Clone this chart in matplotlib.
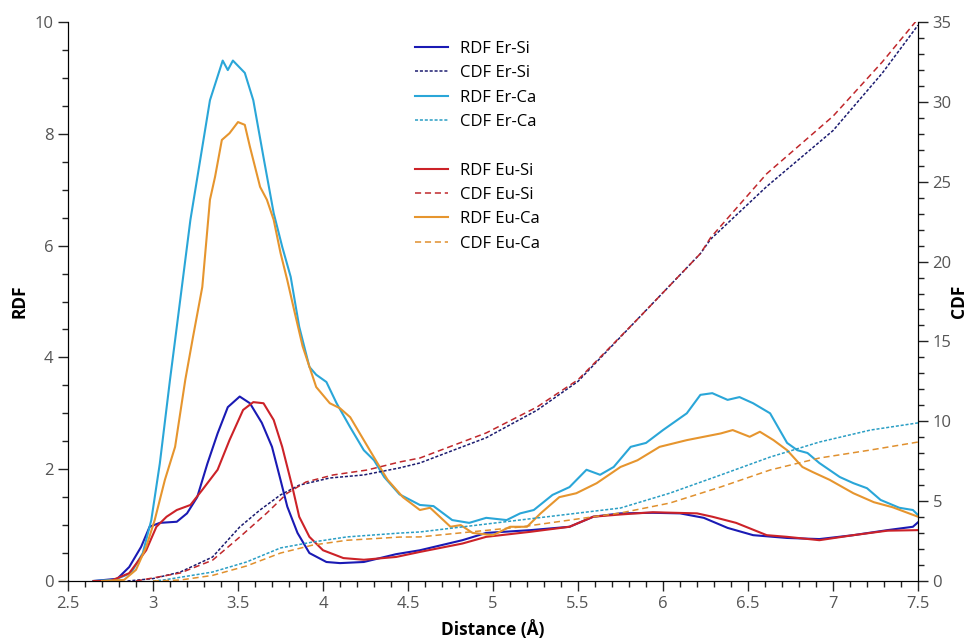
import matplotlib
matplotlib.use('Agg')
import matplotlib.pyplot as plt
from matplotlib.ticker import MultipleLocator

plt.rcParams['font.family'] = ['Open Sans', 'DejaVu Sans']

# RDF curves (left axis)
er_si_rdf_x = [2.65, 2.79, 2.86, 2.93, 2.98, 3.04, 3.14, 3.2, 3.26, 3.32, 3.38, 3.44, 3.51, 3.57, 3.64,
               3.7, 3.75, 3.79, 3.85, 3.92, 4.02, 4.1, 4.24, 4.43, 4.57, 4.82, 4.96, 5.22, 5.45, 5.59,
               5.75, 5.94, 6.1, 6.24, 6.38, 6.53, 6.73, 6.92, 7.12, 7.32, 7.47, 7.5]
er_si_rdf_y = [0, 0.04, 0.25, 0.61, 0.97, 1.04, 1.06, 1.21, 1.5, 2.1, 2.64, 3.11, 3.3, 3.18, 2.83,
               2.4, 1.81, 1.33, 0.86, 0.5, 0.34, 0.32, 0.34, 0.48, 0.55, 0.73, 0.86, 0.91, 0.97, 1.15,
               1.21, 1.22, 1.21, 1.13, 0.95, 0.82, 0.77, 0.75, 0.82, 0.91, 0.97, 1.05]

eu_si_rdf_x = [2.65, 2.75, 2.86, 2.96, 3.02, 3.08, 3.14, 3.22, 3.29, 3.38, 3.45, 3.53, 3.59, 3.65, 3.71,
               3.76, 3.82, 3.86, 3.92, 4.0, 4.12, 4.24, 4.43, 4.57, 4.82, 4.96, 5.22, 5.45, 5.59, 5.75,
               5.94, 6.2, 6.29, 6.43, 6.61, 6.73, 6.92, 7.12, 7.32, 7.5]
eu_si_rdf_y = [0, 0, 0.14, 0.55, 0.97, 1.15, 1.27, 1.36, 1.63, 1.99, 2.52, 3.06, 3.2, 3.18, 2.88,
               2.4, 1.68, 1.15, 0.79, 0.55, 0.41, 0.38, 0.43, 0.52, 0.67, 0.79, 0.88, 0.97, 1.15, 1.19,
               1.23, 1.21, 1.15, 1.04, 0.82, 0.79, 0.73, 0.82, 0.9, 0.91]

er_ca_rdf_x = [2.65, 2.77, 2.87, 2.94, 2.99, 3.04, 3.1, 3.13, 3.22, 3.335, 3.41, 3.44, 3.47, 3.54, 3.59,
               3.65, 3.71, 3.76, 3.81, 3.86, 3.92, 3.96, 4.02, 4.08, 4.16, 4.24, 4.3, 4.36, 4.45, 4.57,
               4.65, 4.76, 4.86, 4.96, 5.08, 5.16, 5.24, 5.35, 5.45, 5.55, 5.63, 5.71, 5.81, 5.9, 6.0,
               6.14, 6.22, 6.29, 6.38, 6.45, 6.53, 6.63, 6.73, 6.79, 6.85, 6.92, 7.04, 7.12, 7.2, 7.28,
               7.39, 7.47, 7.5]
er_ca_rdf_y = [0, 0.02, 0.14, 0.5, 1.09, 2.1, 3.6, 4.31, 6.46, 8.6, 9.31, 9.14, 9.31, 9.09, 8.6,
               7.58, 6.58, 5.98, 5.44, 4.55, 3.83, 3.69, 3.56, 3.18, 2.75, 2.34, 2.16, 1.86, 1.55, 1.36,
               1.34, 1.09, 1.04, 1.13, 1.09, 1.21, 1.27, 1.54, 1.68, 1.99, 1.9, 2.04, 2.4, 2.47, 2.7,
               3.0, 3.33, 3.36, 3.24, 3.29, 3.18, 3.0, 2.47, 2.34, 2.29, 2.11, 1.86, 1.75, 1.66, 1.45,
               1.31, 1.27, 1.18]

eu_ca_rdf_x = [2.7, 2.83, 2.9, 2.96, 3.01, 3.07, 3.13, 3.19, 3.235, 3.29, 3.335, 3.365, 3.405, 3.45, 3.5,
               3.54, 3.57, 3.6, 3.63, 3.67, 3.71, 3.75, 3.79, 3.83, 3.88, 3.96, 4.04, 4.1, 4.16, 4.24,
               4.32, 4.38, 4.47, 4.57, 4.63, 4.75, 4.81, 4.88, 5.0, 5.1, 5.2, 5.28, 5.39, 5.49, 5.61,
               5.75, 5.85, 5.98, 6.14, 6.24, 6.34, 6.41, 6.51, 6.57, 6.65, 6.73, 6.82, 6.88, 6.98, 7.12,
               7.24, 7.35, 7.5]
eu_ca_rdf_y = [0, 0.02, 0.2, 0.61, 1.09, 1.81, 2.4, 3.6, 4.36, 5.26, 6.82, 7.23, 7.89, 8.01, 8.21,
               8.16, 7.77, 7.41, 7.05, 6.82, 6.46, 5.87, 5.38, 4.85, 4.2, 3.47, 3.18, 3.09, 2.93, 2.52,
               2.11, 1.81, 1.5, 1.27, 1.31, 0.97, 1.0, 0.86, 0.82, 0.97, 0.97, 1.21, 1.5, 1.57, 1.75,
               2.04, 2.16, 2.4, 2.52, 2.58, 2.64, 2.7, 2.58, 2.67, 2.52, 2.34, 2.04, 1.95, 1.81, 1.57,
               1.41, 1.32, 1.15]

# CDF curves (right axis)
er_si_cdf_x = [2.85, 3.0, 3.16, 3.35, 3.51, 3.63, 3.75, 3.86, 4.04, 4.24, 4.45, 4.57, 4.96, 5.26, 5.5,
               5.86, 6.22, 6.28, 6.61, 7.0, 7.29, 7.5]
er_si_cdf_y = [0, 0.15, 0.56, 1.5, 3.38, 4.45, 5.39, 6.0, 6.45, 6.64, 7.08, 7.39, 8.97, 10.7, 12.5,
               16.5, 20.5, 21.4, 24.7, 28.2, 31.8, 34.8]

eu_si_cdf_x = [2.9, 3.16, 3.35, 3.51, 3.67, 3.79, 3.9, 4.06, 4.26, 4.45, 4.57, 4.96, 5.26, 5.5, 5.86,
               6.22, 6.28, 6.61, 7.0, 7.29, 7.5]
eu_si_cdf_y = [0, 0.5, 1.3, 2.75, 4.26, 5.5, 6.2, 6.64, 6.95, 7.45, 7.7, 9.27, 10.9, 12.6, 16.5,
               20.5, 21.5, 25.5, 29.1, 32.5, 35.2]

er_ca_cdf_x = [3.0, 3.06, 3.35, 3.55, 3.75, 3.94, 4.14, 4.45, 4.57, 5.16, 5.75, 6.04, 6.34, 6.63, 6.92,
               7.22, 7.5]
er_ca_cdf_y = [0, 0.06, 0.56, 1.19, 2.07, 2.44, 2.76, 3.0, 3.07, 3.82, 4.57, 5.5, 6.64, 7.76, 8.7,
               9.45, 9.9]

eu_ca_cdf_x = [3.0, 3.16, 3.35, 3.55, 3.75, 3.94, 4.14, 4.45, 4.57, 5.16, 5.75, 6.04, 6.34, 6.63, 6.92,
               7.22, 7.5]
eu_ca_cdf_y = [0, 0.06, 0.35, 0.94, 1.75, 2.25, 2.55, 2.75, 2.76, 3.38, 4.26, 4.88, 5.89, 6.95, 7.7,
               8.2, 8.7]

c_er_si = '#1a1ab4'
c_er_si_cdf = '#1c1c70'
c_er_ca = '#2aa6d8'
c_er_ca_cdf = '#2a9ec4'
c_eu_si = '#cc2228'
c_eu_si_cdf = '#c0282c'
c_eu_ca = '#e6952e'
c_eu_ca_cdf = '#e0902e'

fig = plt.figure(figsize=(9.74, 6.38), dpi=100)
ax = fig.add_axes([68 / 974, 1 - 581 / 638, 850 / 974, 559 / 638])
ax2 = ax.twinx()

dot = (0, (2, 1.2))
dash = (0, (4, 2.5))

h1, = ax.plot(er_si_rdf_x, er_si_rdf_y, color=c_er_si, lw=1.5, label='RDF Er-Si')
h2, = ax2.plot(er_si_cdf_x, er_si_cdf_y, color=c_er_si_cdf, lw=1.1, ls=dot, label='CDF Er-Si')
h3, = ax.plot(er_ca_rdf_x, er_ca_rdf_y, color=c_er_ca, lw=1.5, label='RDF Er-Ca')
h4, = ax2.plot(er_ca_cdf_x, er_ca_cdf_y, color=c_er_ca_cdf, lw=1.1, ls=dot, label='CDF Er-Ca')
h5, = ax.plot(eu_si_rdf_x, eu_si_rdf_y, color=c_eu_si, lw=1.5, label='RDF Eu-Si')
h6, = ax2.plot(eu_si_cdf_x, eu_si_cdf_y, color=c_eu_si_cdf, lw=1.1, ls=dash, label='CDF Eu-Si')
h7, = ax.plot(eu_ca_rdf_x, eu_ca_rdf_y, color=c_eu_ca, lw=1.5, label='RDF Eu-Ca')
h8, = ax2.plot(eu_ca_cdf_x, eu_ca_cdf_y, color=c_eu_ca_cdf, lw=1.1, ls=dash, label='CDF Eu-Ca')
blank, = ax.plot([], [], color='none', label=' ')

ax.set_xlim(2.5, 7.5)
ax.set_ylim(0, 10)
ax2.set_ylim(0, 35)

ax.xaxis.set_major_locator(MultipleLocator(0.5))
ax.xaxis.set_minor_locator(MultipleLocator(0.1))
ax.yaxis.set_major_locator(MultipleLocator(2))
ax.yaxis.set_minor_locator(MultipleLocator(0.5))
ax2.yaxis.set_major_locator(MultipleLocator(5))
ax2.yaxis.set_minor_locator(MultipleLocator(1))
ax.xaxis.set_major_formatter(plt.FuncFormatter(lambda v, p: f'{v:g}'))

for a in (ax, ax2):
    a.spines['top'].set_visible(False)
    a.tick_params(which='major', direction='out', length=7, width=1, colors='#222222',
                  labelcolor='#555555', labelsize=12)
    a.tick_params(which='minor', direction='out', length=4, width=1, colors='#222222')

ax.set_xlabel('Distance (Å)', fontsize=12.5, fontweight='bold', labelpad=6)
ax.set_ylabel('RDF', fontsize=12.5, fontweight='bold')
ax2.set_ylabel('CDF', fontsize=12.5, fontweight='bold')
ax.yaxis.set_label_coords(-0.047, 0.5)
ax2.yaxis.set_label_coords(1.038, 0.5)

handles = [h1, h2, h3, h4, blank, h5, h6, h7, h8]
ax2.legend(handles=handles, labels=[h.get_label() for h in handles], loc='upper left',
           bbox_to_anchor=(0.4, 0.978), frameon=False, fontsize=12, handlelength=2.0,
           handletextpad=0.7, labelspacing=0.5, borderaxespad=0)

fig.savefig('out.png', dpi=100)
